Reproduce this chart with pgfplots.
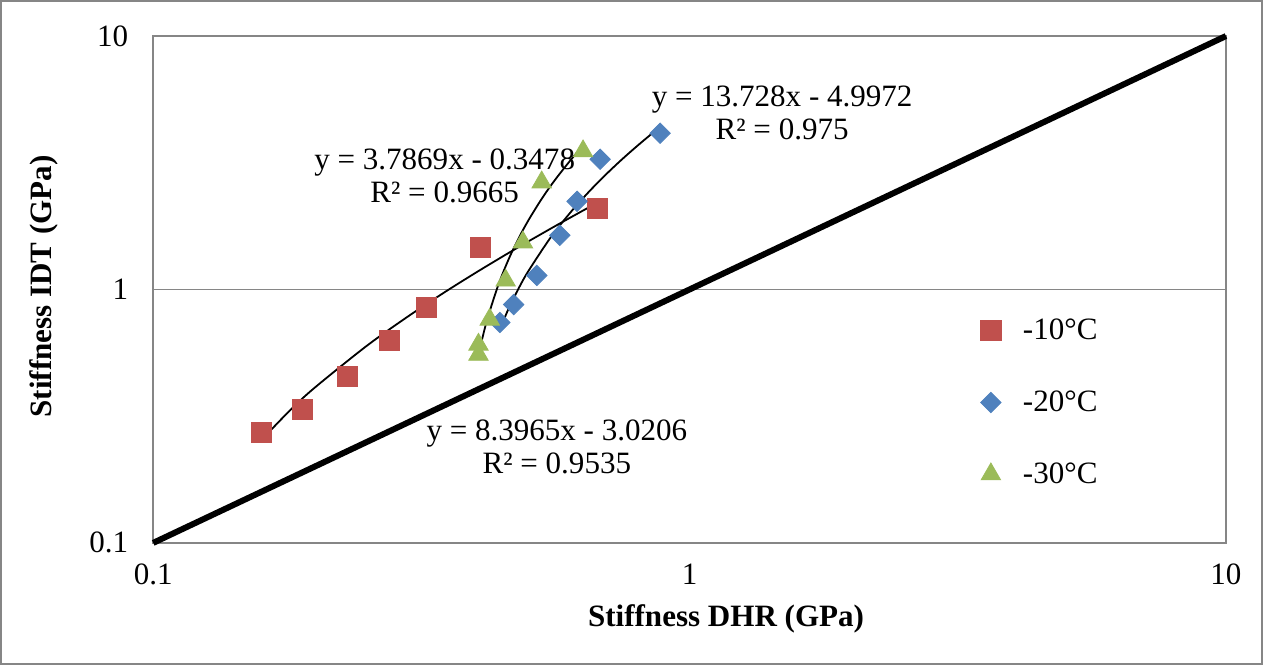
\documentclass[border=0pt]{standalone}
\usepackage{pgfplots}
\pgfplotsset{compat=1.18}
\usepackage{fontspec}
\setmainfont{Liberation Serif}
\definecolor{xred}{RGB}{192,80,77}
\definecolor{xblue}{RGB}{79,129,189}
\definecolor{xgreen}{RGB}{155,187,89}
\definecolor{xgray}{RGB}{134,134,134}
\pgfplotsset{lgimg/.style={legend image code/.code={\path[draw=none] (0pt,0pt) -- (19pt,0pt); \draw[##1] plot coordinates {(5pt,0pt)};}}}
\begin{document}
\begin{tikzpicture}
\begin{axis}[
  name=ax,
  scale only axis,
  width=535.5pt, height=253pt,
  xmode=log, ymode=log,
  xmin=0.1, xmax=10, ymin=0.1, ymax=10,
  xtick={0.1,1,10}, ytick={0.1,1,10},
  xticklabels={0.1,1,10}, yticklabels={0.1,1,10},
  minor tick length=0pt,
  major tick length=0pt,
  axis line style={xgray, line width=1pt},
  ymajorgrids, grid style={xgray, line width=0.8pt},
  tick label style={font=\fontsize{15.5}{18}\selectfont},
  xticklabel style={yshift=-7pt},
  yticklabel style={xshift=-9pt},
  xlabel={\textbf{Stiffness DHR (GPa)}},
  ylabel={\textbf{Stiffness IDT (GPa)}},
  label style={font=\fontsize{15.5}{18}\selectfont},
  xlabel style={at={(axis description cs:0.534,-0.150)}, anchor=center},
  ylabel style={at={(axis description cs:-0.1018,0.506)}, anchor=center},
  legend style={draw=none, fill=none, inner sep=0pt,
    at={(rel axis cs:0.771,0.277)}, anchor=west,
    font=\fontsize{15.5}{18}\selectfont, row sep=20pt},
  legend cell align=left,
  clip=false,
]
% diagonal y = x
\addplot[black, line width=3pt, forget plot] coordinates {(0.1,0.1) (10,10)};

\addplot[only marks, mark=square*, mark size=5pt, color=xred, lgimg] coordinates {
  (0.159,0.272) (0.190,0.335) (0.230,0.453) (0.276,0.628)
  (0.323,0.849) (0.408,1.466) (0.672,2.09)
};
\addlegendentry{-10°C}
\addplot[only marks, mark=square*, mark size=3.6pt, mark options={rotate=45}, color=xblue, lgimg] coordinates {
  (0.443,0.741) (0.470,0.872) (0.519,1.136) (0.573,1.635)
  (0.617,2.227) (0.681,3.265) (0.881,4.137)
};
\addlegendentry{-20°C}
\addplot[only marks, mark=triangle*, mark size=5.6pt, color=xgreen, lgimg] coordinates {
  (0.404,0.553) (0.404,0.606) (0.424,0.761) (0.454,1.085)
  (0.489,1.534) (0.530,2.648) (0.633,3.512)
};
\addlegendentry{-30°C}

% linear trend lines (points from the printed equations)
\addplot[black, line width=0.9pt, smooth, forget plot] coordinates {
  (0.159,0.2543) (0.18,0.3338) (0.2,0.4096) (0.25,0.5989) (0.3,0.7883)
  (0.35,0.9776) (0.4,1.1670) (0.45,1.3563) (0.5,1.5457) (0.55,1.7350)
  (0.6,1.9243) (0.672,2.1970)
};
\addplot[black, line width=0.9pt, smooth, forget plot] coordinates {
  (0.404,0.5489) (0.41,0.6313) (0.42,0.7686) (0.44,1.0431) (0.46,1.3177)
  (0.48,1.5922) (0.5,1.8668) (0.53,2.2786) (0.56,2.6905) (0.6,3.2396)
  (0.633,3.6928)
};
\addplot[black, line width=0.9pt, smooth, forget plot] coordinates {
  (0.443,0.6990) (0.46,0.8418) (0.48,1.0097) (0.5,1.1777) (0.55,1.5975)
  (0.6,2.0173) (0.65,2.4371) (0.7,2.8570) (0.75,3.2768) (0.8,3.6966)
  (0.85,4.1164) (0.881,4.3767)
};

\node[align=center, font=\fontsize{15.5}{16.5}\selectfont] at (axis cs:1.488,4.98) {y = 13.728x - 4.9972\\R² = 0.975};
\node[align=center, font=\fontsize{15.5}{16.5}\selectfont] at (axis cs:0.3495,2.796) {y = 3.7869x - 0.3478\\R² = 0.9665};
\node[align=center, font=\fontsize{15.5}{16.5}\selectfont] at (axis cs:0.5657,0.2384) {y = 8.3965x - 3.0206\\R² = 0.9535};
\end{axis}
\draw[xgray, line width=1pt] ([shift={(-76pt,-60.5pt)}]ax.south west) rectangle ([shift={(553.5pt,270.5pt)}]ax.south west);
\end{tikzpicture}
\end{document}
